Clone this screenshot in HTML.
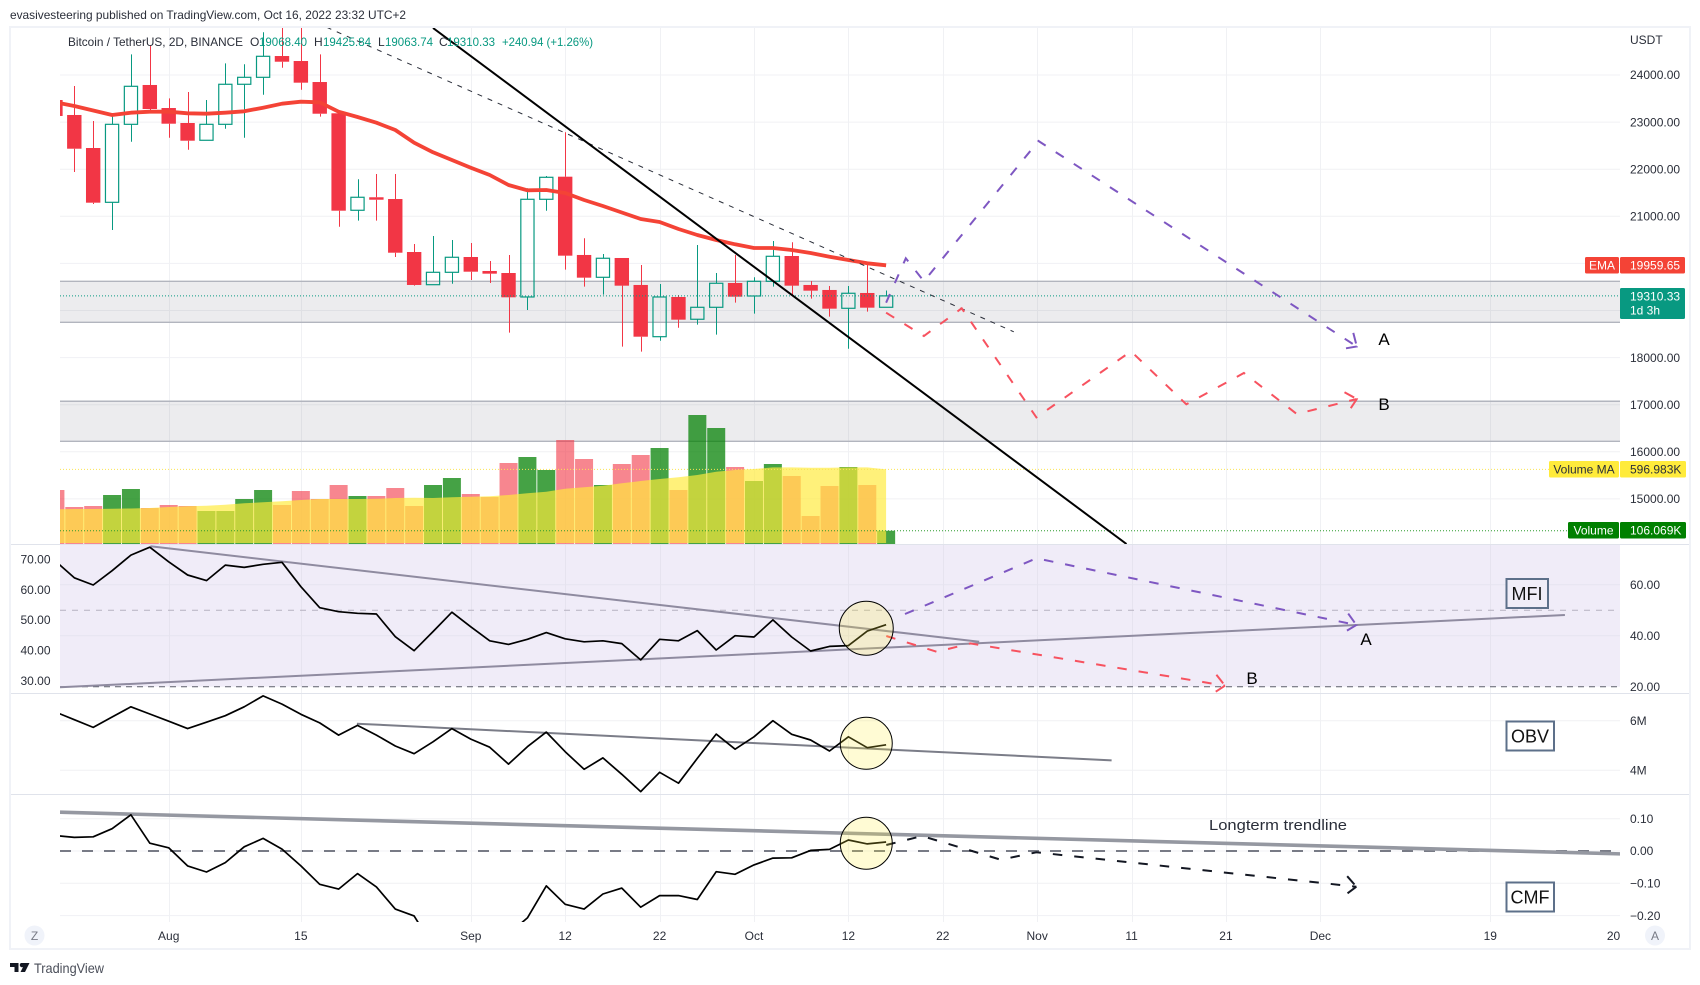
<!DOCTYPE html>
<html lang="en">
<head>
<meta charset="utf-8">
<title>Bitcoin / TetherUS chart</title>
<style>
html,body{margin:0;padding:0;background:#fff;width:1700px;height:985px;overflow:hidden}
svg{display:block;font-family:"Liberation Sans",Arial,sans-serif}
</style>
</head>
<body>
<svg id="chart" xmlns="http://www.w3.org/2000/svg" width="1700" height="985" viewBox="0 0 1700 985">
  <defs>
    <clipPath id="clipMain"><rect x="60" y="28" width="1560" height="516"/></clipPath>
    <clipPath id="clipMfi"><rect x="60" y="545" width="1560" height="148"/></clipPath>
    <clipPath id="clipObv"><rect x="60" y="694" width="1560" height="100"/></clipPath>
    <clipPath id="clipCmf"><rect x="60" y="795" width="1560" height="127"/></clipPath>
  </defs>
  <text x="10" y="19" font-size="12" fill="#2a2e39" textLength="396" lengthAdjust="spacingAndGlyphs">evasivesteering published on TradingView.com, Oct 16, 2022 23:32 UTC+2</text>
  <rect x="10" y="27" width="1680" height="922" fill="#fff" stroke="#f0f2f7" stroke-width="2"/>
  <g id="layerGrid"></g>
  <g id="layerMain" clip-path="url(#clipMain)"></g>
  <g id="layerMfi" clip-path="url(#clipMfi)"></g>
  <g id="layerObv" clip-path="url(#clipObv)"></g>
  <g id="layerCmf" clip-path="url(#clipCmf)"></g>
  <line x1="11" x2="1689" y1="544.5" y2="544.5" stroke="#e0e3eb"/>
  <line x1="11" x2="1689" y1="693.5" y2="693.5" stroke="#e0e3eb"/>
  <line x1="11" x2="1689" y1="794.5" y2="794.5" stroke="#e0e3eb"/>
  <g id="layerAxis"></g>

  <g font-size="12">
    <text x="68" y="46" fill="#2a2e39" textLength="175" lengthAdjust="spacingAndGlyphs">Bitcoin / TetherUS, 2D, BINANCE</text>
    <text x="250" y="46" fill="#2a2e39">O</text>
    <text x="259" y="46" fill="#089981" textLength="48" lengthAdjust="spacingAndGlyphs">19068.40</text>
    <text x="314" y="46" fill="#2a2e39">H</text>
    <text x="323" y="46" fill="#089981" textLength="48" lengthAdjust="spacingAndGlyphs">19425.84</text>
    <text x="378" y="46" fill="#2a2e39">L</text>
    <text x="385" y="46" fill="#089981" textLength="48" lengthAdjust="spacingAndGlyphs">19063.74</text>
    <text x="439" y="46" fill="#2a2e39">C</text>
    <text x="447" y="46" fill="#089981" textLength="48" lengthAdjust="spacingAndGlyphs">19310.33</text>
    <text x="502" y="46" fill="#089981" textLength="91" lengthAdjust="spacingAndGlyphs">+240.94 (+1.26%)</text>
  </g>

  <text x="1384" y="345" font-size="17" text-anchor="middle" fill="#000">A</text>
  <text x="1384" y="410" font-size="17" text-anchor="middle" fill="#000">B</text>
  <text x="1366" y="645" font-size="17" text-anchor="middle" fill="#000">A</text>
  <text x="1252" y="684" font-size="17" text-anchor="middle" fill="#000">B</text>

  <g>
    <rect x="1506.5" y="579" width="41.5" height="29" fill="#f0edf8" stroke="#5d708a" stroke-width="2"/>
    <text x="1527" y="600" font-size="18" text-anchor="middle" fill="#111">MFI</text>
  </g>
  <g>
    <rect x="1506.5" y="721.5" width="47.5" height="29" fill="#fff" stroke="#5d708a" stroke-width="2"/>
    <text x="1530" y="742.5" font-size="18" text-anchor="middle" fill="#111">OBV</text>
  </g>
  <g>
    <rect x="1506.5" y="882.5" width="47.5" height="29" fill="#fff" stroke="#5d708a" stroke-width="2"/>
    <text x="1530" y="903.5" font-size="18" text-anchor="middle" fill="#111">CMF</text>
  </g>
  <text x="1209" y="830" font-size="15" fill="#2a2e39" textLength="138" lengthAdjust="spacingAndGlyphs">Longterm trendline</text>

  <g font-size="12">
    <rect x="1585" y="257" width="34" height="16.5" rx="1.5" fill="#f44336"/>
    <text x="1602" y="269.5" text-anchor="middle" fill="#fff">EMA</text>
    <rect x="1620" y="257" width="65" height="16.5" rx="1.5" fill="#f44336"/>
    <text x="1630" y="269.5" fill="#fff">19959.65</text>
    <rect x="1620" y="288" width="65" height="31" rx="1.5" fill="#089981"/>
    <text x="1630" y="300.5" fill="#fff">19310.33</text>
    <text x="1630" y="314.5" fill="#fff">1d 3h</text>
    <rect x="1549" y="461" width="70" height="16.5" rx="1.5" fill="#ffeb3b"/>
    <text x="1584" y="473.5" text-anchor="middle" fill="#2a2e39">Volume MA</text>
    <rect x="1620" y="461" width="66" height="16.5" rx="1.5" fill="#ffeb3b"/>
    <text x="1630" y="473.5" fill="#2a2e39">596.983K</text>
    <rect x="1568" y="522" width="51" height="16.5" rx="1.5" fill="#008000"/>
    <text x="1593.5" y="534.5" text-anchor="middle" fill="#fff">Volume</text>
    <rect x="1620" y="522" width="66" height="16.5" rx="1.5" fill="#008000"/>
    <text x="1630" y="534.5" fill="#fff">106.069K</text>
  </g>

  <g>
    <circle cx="34.5" cy="935.5" r="10" fill="#f0f3fa"/>
    <text x="34.5" y="940" font-size="12" text-anchor="middle" fill="#787b86">Z</text>
  </g>
  <g>
    <circle cx="1655" cy="935.5" r="10" fill="#f0f3fa"/>
    <text x="1655" y="940" font-size="12" text-anchor="middle" fill="#787b86">A</text>
  </g>

  <g>
    <path d="M10 963h8.5v9h-4v-5h-4.5zM21 963h8.5l-4.5 9h-4.5l2.5-5a2 2 0 0 1-2-4z" fill="#131722"/>
    <text x="34" y="973" font-size="14" fill="#4a4e59" textLength="70" lengthAdjust="spacingAndGlyphs">TradingView</text>
  </g>
</svg>

<script>
// ---------- chart data (one entry per 2-day bar, left to right) ----------
const candleOpen  = [23469,23151,22450,21297,22953,23788,23299,22981,22614,22953,23803,23951,24403,24297,23851,23187,21128,21404,21367,20242,19548,19811,20136,19839,19796,19287,21361,21841,20179,19705,20115,19542,18444,19287,18814,19068,19584,19308,19620,20157,19542,19436,19047,19372,19068.40];
const candleHigh  = [23575,23766,23023,23193,24439,24637,23505,23639,23469,24248,24227,24907,25019,25019,24439,23187,21786,21898,21898,20412,20582,20497,20433,20051,20179,21595,21856,22784,20533,20200,20115,19966,19563,19329,20391,19796,20179,19705,20476,20448,19627,19521,19521,19966,19425.84];
const candleLow   = [23086,21941,21261,20709,22584,23236,22669,22414,22614,22860,22669,23582,24155,23688,23115,20779,20907,20907,20136,19527,19548,19569,19648,19584,18529,19011,21119,19867,19506,19336,18232,18126,18359,18635,18699,18487,19166,18933,19506,19308,19251,18869,18189,18975,19063.74];
const candleClose = [23130,22435,21289,22953,23760,23278,22966,22605,22953,23803,23951,24397,24282,23837,23178,21119,21404,21352,20227,19542,19811,20130,19824,19782,19280,21361,21828,20164,19697,20109,19527,18444,19287,18805,19068,19578,19293,19620,20151,19527,19421,19039,19366,19060,19310.33];
const emaValues   = [23420,23342,23246,23151,23200,23221,23221,23187,23178,23200,23229,23306,23391,23433,23420,23221,23108,22987,22832,22563,22359,22195,22032,21877,21665,21552,21559,21495,21346,21219,21081,20943,20879,20731,20603,20497,20406,20327,20327,20285,20221,20143,20072,20002,19959.65];
const volumeK     = [432,296,304,392,440,288,312,304,264,264,360,432,312,424,360,472,384,384,448,304,472,528,400,376,648,696,592,832,680,472,640,712,768,432,1032,928,616,504,640,544,224,464,616,472,106.069];
const volumeMaK   = [278,280,280,282,284,288,296,302,306,314,326,334,342,352,360,360,360,362,368,370,368,374,378,382,392,406,418,442,454,466,486,504,520,534,552,578,592,600,613,613,610,610,613,613,596.983];
const mfiValues   = [69.3,62.7,59.9,65.5,71.6,74.7,69,63.8,61.6,67.7,66.8,68,68.8,59.2,51,49.4,48.8,48.5,39.6,34.1,41.6,49.2,43.5,38,36.6,38.6,41.2,38.8,37.6,38,36.9,30.5,38.6,38,42,34.4,40,39.5,46.2,39.5,34,35.8,36.1,41.8,44.3];
const obvMillions = [6.35,6.04,5.73,6.15,6.56,6.27,5.98,5.68,5.94,6.20,6.56,7.00,6.67,6.26,5.91,5.42,5.81,5.42,4.98,4.67,5.15,5.68,5.26,4.93,4.25,4.95,5.54,4.75,4.04,4.50,3.84,3.14,3.92,3.48,4.48,5.46,4.85,5.35,6.00,5.45,5.22,4.78,5.35,4.91,5.03];
const cmfValues   = [0.048,0.042,0.044,0.069,0.112,0.024,0.010,-0.046,-0.065,-0.036,0.013,0.039,0.006,-0.046,-0.103,-0.118,-0.070,-0.111,-0.180,-0.201,-0.296,-0.307,-0.322,-0.291,-0.257,-0.207,-0.108,-0.165,-0.180,-0.133,-0.115,-0.174,-0.138,-0.138,-0.150,-0.064,-0.072,-0.043,-0.022,-0.021,0.002,0.005,0.034,0.022,0.028];

// axis ticks
const priceTicks = [24000,23000,22000,21000,20000,19000,18000,17000,16000,15000];
const priceTickLabels = ["24000.00","23000.00","22000.00","21000.00",null,null,"18000.00","17000.00","16000.00","15000.00"];
const mfiTicks = [60,40,20];
const mfiTickLabels = ["60.00","40.00","20.00"];
const mfiLeftTicks = [70,60,50,40,30];
const mfiLeftTickLabels = ["70.00","60.00","50.00","40.00","30.00"];
const obvTicks = [6,4];
const obvTickLabels = ["6M","4M"];
const cmfTicks = [0.1,0,-0.1,-0.2];
const cmfTickLabels = ["0.10","0.00","\u22120.10","\u22120.20"];
const timeTickBars = [5,12,21,26,31,36,41,46,51,56,61,66,75,82];
const timeTickLabels = ["Aug","15","Sep","12","22","Oct","12","22","Nov","11","21","Dec","19","20"];

// levels and drawings, expressed as [bar number, value]
const lastPrice = 19310.33;
const supportZones = [[19620,18750],[17073,16223]];
const steepTrendline = [[19,24998],[55.73,14043]];
const thinTrendline = [[13.37,25013],[49.76,18548]];
const scenarioPriceA = [[43,19166],[44.04,20109],[45,19620],[51.07,22599],[67.93,18236]];
const scenarioPriceB = [[43,18954],[45,18459],[47,19047],[50.96,16731],[55.97,18134],[58.9,17008],[61.95,17673],[64.75,16803],[67.93,17121]];
const mfiTrendUpper = [[4.03,75.06],[47.93,37.65]];
const mfiTrendLower = [[-0.76,19.76],[78.95,48.1]];
const scenarioMfiA = [[44,48.5],[50.96,70.35],[67.91,44.2]];
const scenarioMfiB = [[43.01,39.9],[45.69,33.7],[47.46,37],[60.95,20.4]];
const obvTrend = [[14.97,5.88],[54.94,4.40]];
const cmfTrend = [[-0.76,0.120],[82.1,-0.0093]];
const scenarioCmf = [[43.01,0.0186],[44.9,0.0464],[47.55,0],[49.07,-0.027],[50.96,-0.004],[67.91,-0.1105]];
const highlightBar = 42;
const highlightMfi = 42.9;
const highlightObv = 5.09;
const highlightCmf = 0.024;

// ---------- axis functions ----------
function xBar(b){ return 74.3 + 18.88 * b; }
function xIdx(i){ return xBar(i - 1); }
function yPrice(p){ return 75 + (24000 - p) * 0.0471; }
function yVol(v){ return 544 - v * 0.125; }
function yMfi(v){ return 686.7 - (v - 20) * 2.55; }
function yMfiLeft(v){ return 680.7 - (v - 30) * 3.035; }
function yObv(v){ return 720.7 + (6 - v) * 24.8; }
function yCmf(v){ return 851 - v * 323; }

const NS = "http://www.w3.org/2000/svg";
function mk(tag, attrs, parent){
  const e = document.createElementNS(NS, tag);
  for (const k in attrs) e.setAttribute(k, attrs[k]);
  parent.appendChild(e);
  return e;
}
function pathFrom(pts, yFn){
  return pts.map((p, i) => (i ? "L" : "M") + xBar(p[0]).toFixed(1) + " " + yFn(p[1]).toFixed(1)).join(" ");
}
function arrowPath(pts, yFn){
  const a = pts[pts.length - 2], b = pts[pts.length - 1];
  const tx = xBar(b[0]), ty = yFn(b[1]);
  const ang = Math.atan2(yFn(a[1]) - ty, xBar(a[0]) - tx);
  const len = 14, sp = 0.74;
  return "M" + (tx + len * Math.cos(ang + sp)).toFixed(1) + " " + (ty + len * Math.sin(ang + sp)).toFixed(1) +
    " L" + tx.toFixed(1) + " " + ty.toFixed(1) +
    " L" + (tx + len * Math.cos(ang - sp)).toFixed(1) + " " + (ty + len * Math.sin(ang - sp)).toFixed(1);
}

const gGrid = document.getElementById("layerGrid");
const gMain = document.getElementById("layerMain");
const gMfi = document.getElementById("layerMfi");
const gObv = document.getElementById("layerObv");
const gCmf = document.getElementById("layerCmf");
const gAxis = document.getElementById("layerAxis");
const GRID = "#f0f1f4";
const BULL = "#089981";
const BEAR = "#f23645";

// ---------- grid ----------
timeTickBars.forEach((b, i) => {
  if (i === timeTickBars.length - 1) return;
  const x = Math.round(xBar(b)) + 0.5;
  const el = mk("line", {x1: x, x2: x, y1: 28, y2: 922, stroke: GRID, "stroke-width": 1}, gGrid);
  
  
});
function hGrid(y, name){
  const el = mk("line", {x1: 60, x2: 1620, y1: y, y2: y, stroke: GRID, "stroke-width": 1}, gGrid);
  
  
}
priceTicks.forEach(t => hGrid(yPrice(t), 'price-gridline'));
cmfTicks.forEach(t => hGrid(yCmf(t), 'cmf-gridline'));
obvTicks.forEach(t => hGrid(yObv(t), 'obv-gridline'));

// ---------- price pane ----------
supportZones.forEach(z => {
  const y1 = yPrice(z[0]), y2 = yPrice(z[1]);
  const r = mk("rect", {x: 60, y: y1, width: 1560, height: y2 - y1, fill: "rgba(120,123,134,.14)"}, gMain);
  
  
  [y1, y2].forEach(y => {
    const l = mk("line", {x1: 60, x2: 1620, y1: y, y2: y, stroke: "#b2b5be", "stroke-width": 1.4}, gMain);
    
    
  });
});

volumeK.forEach((v, i) => {
  const up = candleClose[i] >= candleOpen[i];
  const top = yVol(v);
  const b = mk("rect", {x: xIdx(i) - 9, y: top, width: 18, height: 544 - top, fill: up ? "rgba(0,128,0,.73)" : "rgba(242,54,69,.6)"}, gMain);
  
  
});

const maPts = volumeMaK.map((v, i) => xIdx(i).toFixed(1) + "," + yVol(v).toFixed(1));
const maArea = mk("polygon", {points: xIdx(0).toFixed(1) + ",543 " + maPts.join(" ") + " " + xIdx(volumeMaK.length - 1).toFixed(1) + ",543", fill: "rgba(255,235,59,.68)"}, gMain);



candleOpen.forEach((o, i) => {
  const c = candleClose[i], h = candleHigh[i], l = candleLow[i];
  const up = c >= o;
  const col = up ? BULL : BEAR;
  const x = xIdx(i);
  const top = yPrice(Math.max(o, c)), bot = yPrice(Math.min(o, c));
  const wx = Math.round(x) + 0.5;
  const w1 = mk("line", {x1: wx, x2: wx, y1: yPrice(h), y2: top, stroke: col, "stroke-width": 1}, gMain);
  
  
  const w2 = mk("line", {x1: wx, x2: wx, y1: bot, y2: yPrice(l), stroke: col, "stroke-width": 1}, gMain);
  
  
  const body = up
    ? mk("rect", {x: x - 6.6, y: top, width: 13.2, height: bot - top, fill: "none", stroke: col, "stroke-width": 1.2}, gMain)
    : mk("rect", {x: x - 7.2, y: top, width: 14.4, height: bot - top, fill: col}, gMain);
  
  
});

const emaLine = mk("polyline", {points: emaValues.map((v, i) => xIdx(i).toFixed(1) + "," + yPrice(v).toFixed(1)).join(" "), fill: "none", stroke: "#f44336", "stroke-width": 3.8, "stroke-linejoin": "round"}, gMain);



const lastLine = mk("line", {x1: 60, x2: 1620, y1: yPrice(lastPrice), y2: yPrice(lastPrice), stroke: BULL, "stroke-width": 1, "stroke-dasharray": "1 2"}, gMain);


const maLevel = mk("line", {x1: 60, x2: 1549, y1: yVol(volumeMaK[volumeMaK.length - 1]), y2: yVol(volumeMaK[volumeMaK.length - 1]), stroke: "#fbe552", "stroke-width": 1, "stroke-dasharray": "1 2"}, gMain);


const volLevel = mk("line", {x1: 60, x2: 1568, y1: yVol(volumeK[volumeK.length - 1]), y2: yVol(volumeK[volumeK.length - 1]), stroke: "#2e9b2e", "stroke-width": 1, "stroke-dasharray": "1 2"}, gMain);



const tlA = mk("path", {d: pathFrom(thinTrendline, yPrice), fill: "none", stroke: "#2a2e39", "stroke-width": 1, "stroke-dasharray": "5 6"}, gMain);


const tlB = mk("path", {d: pathFrom(steepTrendline, yPrice), fill: "none", stroke: "#000", "stroke-width": 2}, gMain);



function scenario(pts, yFn, col, parent, width, dash){
  const p = mk("path", {d: pathFrom(pts, yFn), fill: "none", stroke: col, "stroke-width": width, "stroke-dasharray": dash}, parent);
  
  
  const a = mk("path", {d: arrowPath(pts, yFn), fill: "none", stroke: col, "stroke-width": width, "stroke-dasharray": "11 3"}, parent);
  
  
}
scenario(scenarioPriceA, yPrice, "#7e57c2", gMain, 2, "9.5 12");
scenario(scenarioPriceB, yPrice, "#f7525f", gMain, 2, "9.5 12");

// ---------- MFI pane ----------
const mfiBand = mk("rect", {x: 60, y: 545, width: 1560, height: yMfi(20) - 545, fill: "rgba(126,87,194,.115)"}, gMfi);


mfiTicks.slice(0, 2).forEach(t => {
  const l = mk("line", {x1: 60, x2: 1620, y1: yMfi(t), y2: yMfi(t), stroke: "#e6e3ef", "stroke-width": 1}, gMfi);
  
  
});
timeTickBars.slice(0, -1).forEach(b => {
  const x = Math.round(xBar(b)) + 0.5;
  const l = mk("line", {x1: x, x2: x, y1: 545, y2: yMfi(20), stroke: "#e6e3ef", "stroke-width": 1}, gMfi);
  
  
});
const mfiMid = mk("line", {x1: 60, x2: 1620, y1: yMfi(50), y2: yMfi(50), stroke: "#b5b2bf", "stroke-width": 1, "stroke-dasharray": "6 6"}, gMfi);


const mfiLow = mk("line", {x1: 60, x2: 1620, y1: yMfi(20), y2: yMfi(20), stroke: "#5d606b", "stroke-width": 1, "stroke-dasharray": "6 5"}, gMfi);



function trend(pts, yFn, parent, width, col){
  const p = mk("path", {d: pathFrom(pts, yFn), fill: "none", stroke: col, "stroke-width": width}, parent);
  
  
}
trend(mfiTrendUpper, yMfi, gMfi, 2, "#8f8ba0");
trend(mfiTrendLower, yMfi, gMfi, 2, "#8f8ba0");
scenario(scenarioMfiA, yMfi, "#7e57c2", gMfi, 2, "9.5 12");
scenario(scenarioMfiB, yMfi, "#f7525f", gMfi, 2, "9.5 12");

function highlight(y, parent, r){
  const c = mk("circle", {cx: xBar(highlightBar) - 1, cy: y, r: r, fill: "rgba(255,235,59,.22)", stroke: "#000", "stroke-width": 1}, parent);
  
  
}
function indicatorLine(vals, yFn, parent, name){
  const l = mk("polyline", {points: vals.map((v, i) => xIdx(i).toFixed(1) + "," + yFn(v).toFixed(1)).join(" "), fill: "none", stroke: "#000", "stroke-width": 1.7, "stroke-linejoin": "round"}, parent);
  
  
}
indicatorLine(mfiValues, yMfi, gMfi, 'mfi-line');
highlight(yMfi(highlightMfi), gMfi, 27);

// ---------- OBV pane ----------
trend(obvTrend, yObv, gObv, 2, "#7b7d88");
indicatorLine(obvMillions, yObv, gObv, 'obv-line');
highlight(yObv(highlightObv), gObv, 26);

// ---------- CMF pane ----------
const cmfZero = mk("line", {x1: 60, x2: 1620, y1: yCmf(0), y2: yCmf(0), stroke: "#787b86", "stroke-width": 2, "stroke-dasharray": "11 11"}, gCmf);


trend(cmfTrend, yCmf, gCmf, 3.6, "#9598a1");
scenario(scenarioCmf, yCmf, "#131722", gCmf, 2, "9.5 12");
indicatorLine(cmfValues, yCmf, gCmf, 'cmf-line');
highlight(yCmf(highlightCmf), gCmf, 26);

// ---------- axis labels ----------
function tick(x, y, txt, name, anchor){
  const t = mk("text", {x: x, y: y + 4.2, "font-size": 12, fill: "#2a2e39", "text-anchor": anchor || "start"}, gAxis);
  t.textContent = txt;
  
  
}
const unitLabel = mk("text", {x: 1630, y: 44, "font-size": 12, fill: "#2a2e39"}, gAxis);
unitLabel.textContent = "USDT";


priceTicks.forEach((t, i) => { if (priceTickLabels[i]) tick(1630, yPrice(t), priceTickLabels[i], 'price-tick-label'); });
mfiTicks.forEach((t, i) => tick(1630, yMfi(t), mfiTickLabels[i], 'mfi-tick-label'));
mfiLeftTicks.forEach((t, i) => tick(20.5, yMfiLeft(t), mfiLeftTickLabels[i], 'mfi-left-tick-label'));
obvTicks.forEach((t, i) => tick(1630, yObv(t), obvTickLabels[i], 'obv-tick-label'));
cmfTicks.forEach((t, i) => tick(1630, yCmf(t), cmfTickLabels[i], 'cmf-tick-label'));
timeTickBars.forEach((b, i) => tick(Math.min(xBar(b), 1613.5), 936, timeTickLabels[i], 'time-tick-label', 'middle'));
</script>
</body>
</html>
